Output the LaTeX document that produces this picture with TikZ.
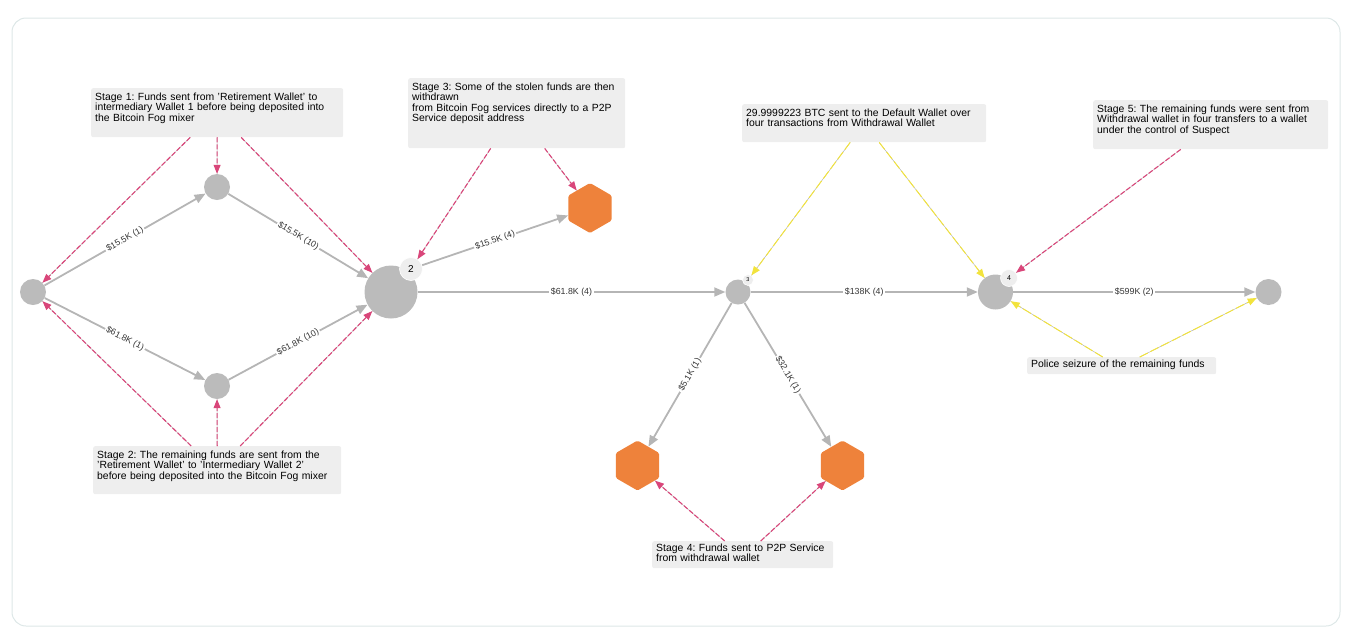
\documentclass[tikz,border=0pt]{standalone}
\usepackage{fontspec}
\setmainfont{Liberation Sans}
\usetikzlibrary{arrows.meta,shapes.geometric}
\frenchspacing
\definecolor{nodegray}{HTML}{BBBBBB}
\definecolor{edgegray}{HTML}{B5B5B5}
\definecolor{notefill}{HTML}{EEEEEE}
\definecolor{notepink}{HTML}{D9467A}
\definecolor{noteyellow}{HTML}{F2E33C}
\definecolor{hexorange}{HTML}{EE823B}
\definecolor{framegray}{HTML}{DDE7E7}
\tikzset{
    wallet/.style={circle, fill=nodegray, inner sep=0pt, minimum size=26pt},
    badge/.style={circle, fill=notefill, draw=white, line width=0.6pt, inner sep=0pt},
    service/.style={regular polygon, regular polygon sides=6, shape border rotate=90,
        fill=hexorange, rounded corners=1.5pt, inner sep=0pt, minimum size=50pt},
    note/.style={fill=notefill, rounded corners=2pt, anchor=north west, align=left,
        inner xsep=4pt, inner ysep=3pt, text height=9pt,
        font=\fontsize{10.4}{10.4}\selectfont},
    flow/.style={draw=edgegray, line width=1.8pt, -{Triangle[length=11pt,width=9pt]}},
    amt/.style={midway, sloped, fill=white, inner sep=1.5pt, text=black!80,
        font=\fontsize{8.8}{9}\selectfont},
    pinkarrow/.style={draw=notepink, line width=1.1pt, dash pattern=on 5pt off 2pt,
        -{Triangle[length=9pt,width=7pt]},
        preaction={draw=gray!55, solid, line width=0.5pt, -}},
    yellowarrow/.style={draw=noteyellow, line width=1pt, dash pattern=on 9pt off 3pt,
        -{Triangle[length=9pt,width=7pt]},
        preaction={draw=gray!60, solid, line width=0.5pt, -}},
}
\begin{document}
\begin{tikzpicture}[x=1pt, y=-1pt]
    \useasboundingbox (0,0) rectangle (1353,641);
    \draw[framegray, line width=1pt, rounded corners=14pt] (12,18) rectangle (1340,626);

    \node[wallet] (rw) at (33,292) {};
    \node[wallet] (i1) at (217,187) {};
    \node[wallet] (i2) at (217,386) {};
    \node[wallet, minimum size=53pt] (mx) at (391,292) {};
    \node[badge, minimum size=23pt, font=\fontsize{10}{10}\selectfont] (b2) at (411,269) {2};
    \node[service] (p1) at (590,208) {};
    \node[wallet, minimum size=25pt] (ww) at (738,292) {};
    \node[badge, minimum size=11pt, font=\fontsize{5.5}{6}\selectfont] (b3) at (748,280) {3};
    \node[service] (p2) at (637.5,465.5) {};
    \node[service] (p3) at (842.5,465.5) {};
    \node[wallet, minimum size=35pt] (dw) at (995.5,292) {};
    \node[badge, minimum size=17pt, font=\fontsize{7}{7}\selectfont] (b4) at (1009,278) {4};
    \node[wallet] (sw) at (1268.5,292) {};

    \node[note, text width=244pt, text depth=34pt] (s1) at (91,88)
        {Stage 1: Funds sent from 'Retirement Wallet' to\\ intermediary Wallet 1 before being deposited into\\ the Bitcoin Fog mixer};
    \node[note, text width=209pt, text depth=55pt] (s3) at (408,78)
        {Stage 3: Some of the stolen funds are then\\ withdrawn\\ from Bitcoin Fog services directly to a P2P\\ Service deposit address};
    \node[note, text width=236pt, text depth=23pt] (bt) at (742,104)
        {29.9999223 BTC sent to the Default Wallet over\\ four transactions from Withdrawal Wallet};
    \node[note, text width=227pt, text depth=34pt] (s5) at (1093,100)
        {Stage 5: The remaining funds were sent from\\ Withdrawal wallet in four transfers to a wallet\\ under the control of Suspect};
    \node[note, text width=240pt, text depth=33pt] (s2) at (93,446)
        {Stage 2: The remaining funds are sent from the\\ 'Retirement Wallet' to 'Intermediary Wallet 2'\\ before being deposited into the Bitcoin Fog mixer};
    \node[note, text width=173pt, inner ysep=1.5pt, text height=8.5pt, text depth=15.5pt] (s4) at (652,541)
        {Stage 4: Funds sent to P2P Service\\ from withdrawal wallet};
    \node[note, text width=181pt, inner ysep=1.5pt, text height=8.5pt, text depth=5.5pt] (po) at (1027,357)
        {Police seizure of the remaining funds};

    \draw[flow] (rw) -- node[amt] {\$15.5K (1)} (i1);
    \draw[flow] (i1) -- node[amt] {\$15.5K (10)} (mx);
    \draw[flow] (rw) -- node[amt] {\$61.8K (1)} (i2);
    \draw[flow] (i2) -- node[amt] {\$61.8K (10)} (mx);
    \draw[flow] (b2) -- node[amt] {\$15.5K (4)} (p1);
    \draw[flow] (mx) -- node[amt] {\$61.8K (4)} (ww);
    \draw[flow] (ww) -- node[amt] {\$138K (4)} (dw);
    \draw[flow] (ww) -- node[amt] {\$5.1K (1)} (p2);
    \draw[flow] (ww) -- node[amt] {\$32.1K (1)} (p3);
    \draw[flow] (dw) -- node[amt] {\$599K (2)} (sw);

    \draw[pinkarrow] ([xshift=-27pt]s1.south) -- (rw);
    \draw[pinkarrow] (s1.south) -- (i1);
    \draw[pinkarrow] ([xshift=24pt]s1.south) -- (mx);
    \draw[pinkarrow] ([xshift=-26pt]s2.north) -- (rw);
    \draw[pinkarrow] (s2.north) -- (i2);
    \draw[pinkarrow] ([xshift=23pt]s2.north) -- (mx);
    \draw[pinkarrow] ([xshift=-26pt]s3.south) -- (b2);
    \draw[pinkarrow] ([xshift=28pt]s3.south) -- (p1);
    \draw[pinkarrow] ([xshift=-18pt]s4.north) -- (p2);
    \draw[pinkarrow] ([xshift=18pt]s4.north) -- (p3);
    \draw[pinkarrow] ([xshift=-30pt]s5.south) -- (b4);

    \draw[yellowarrow] ([xshift=-14pt]bt.south) -- (b3);
    \draw[yellowarrow] ([xshift=15pt]bt.south) -- (dw);
    \draw[yellowarrow] ([xshift=-19pt]po.north) -- (dw);
    \draw[yellowarrow] ([xshift=18pt]po.north) -- (sw);
\end{tikzpicture}
\end{document}
